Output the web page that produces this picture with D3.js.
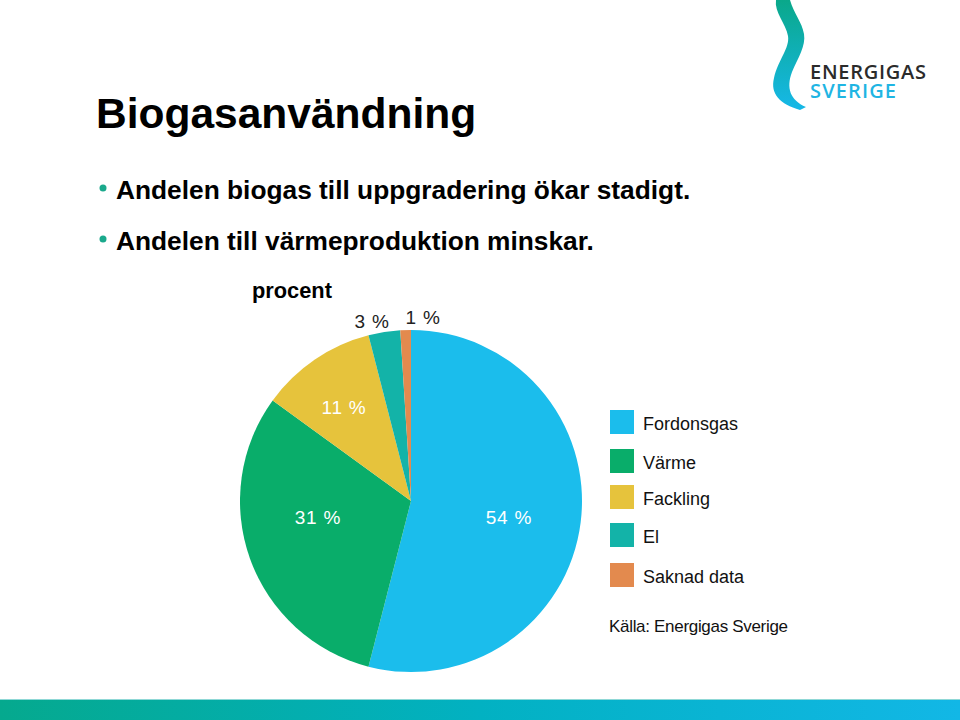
<!DOCTYPE html>
<html><head><meta charset="utf-8">
<script src="https://cdn.jsdelivr.net/npm/d3@7"></script>
<style>body{margin:0;background:#fff}svg{display:block}</style>
</head><body>
<svg id="c" width="960" height="720"></svg>
<script>
const categories = ["Fordonsgas", "Värme", "Fackling", "El", "Saknad data"];
const values = [54, 31, 11, 3, 1];
const valueLabels = ["54 %", "31 %", "11 %", "3 %", "1 %"];
const colors = ["#1bbdec", "#09ad6a", "#e6c33c", "#13b3a8", "#e38a4e"];
const title = "Biogasanvändning";
const bullets = ["Andelen biogas till uppgradering ökar stadigt.", "Andelen till värmeproduktion minskar."];

const svg = d3.select("#c");
const defs = svg.append("defs");
const g1 = defs.append("linearGradient").attr("id","bar").attr("x1","0").attr("x2","1");
g1.append("stop").attr("offset","0").attr("stop-color","#05a98e");
g1.append("stop").attr("offset","0.5").attr("stop-color","#02b1c2");
g1.append("stop").attr("offset","1").attr("stop-color","#12b7e6");
const g2 = defs.append("linearGradient").attr("id","rib").attr("x1","0").attr("y1","0").attr("x2","0").attr("y2","1");
g2.append("stop").attr("offset","0").attr("stop-color","#0aa88a");
g2.append("stop").attr("offset","1").attr("stop-color","#16b8e8");

// bottom bar
svg.append("rect").attr("x",0).attr("y",700).attr("width",960).attr("height",20).attr("fill","url(#bar)");
svg.append("rect").attr("x",0).attr("y",699).attr("width",960).attr("height",1).attr("fill","#8fd8d6");

// logo ribbon
svg.append("path")
  .attr("d","M776,0 L790,0 C794,14 802,22 804,34 C806,46 798,58 792,72 C786,88 790,100 806,107 L800,110 C780,104 770,94 774,78 C778,60 790,48 788,36 C786,24 774,12 776,0 Z")
  .attr("fill","url(#rib)");
svg.append("text").attr("x",810).attr("y",79).attr("font-family","'Open Sans', Arial, sans-serif")
  .attr("font-size",20).attr("font-weight",600).attr("fill","#2b2b2b").attr("textLength",116).text("ENERGIGAS");
svg.append("text").attr("x",810).attr("y",98).attr("font-family","'Open Sans', Arial, sans-serif")
  .attr("font-size",20).attr("font-weight",600).attr("fill","#1fb5e3").attr("textLength",86).text("SVERIGE");

// title & bullets
svg.append("text").attr("x",96).attr("y",128).attr("font-family","'Liberation Sans', Arial, sans-serif")
  .attr("font-size",42.5).attr("font-weight","bold").attr("fill","#000").text(title);
bullets.forEach((b,i)=>{
  const y = 199 + i*51;
  svg.append("circle").attr("cx",103).attr("cy",y-11).attr("r",3.5).attr("fill","#1aa98c");
  svg.append("text").attr("x",116).attr("y",y).attr("font-family","'Liberation Sans', Arial, sans-serif")
    .attr("font-size",26.3).attr("font-weight","bold").attr("fill","#000").text(b);
});

svg.append("text").attr("x",252).attr("y",298).attr("font-family","'Liberation Sans', Arial, sans-serif")
  .attr("font-size",21.8).attr("font-weight","bold").attr("fill","#000").text("procent");

// pie
const cx = 411, cy = 501, r = 171;
const pie = d3.pie().sort(null).value(d=>d)(values);
const arc = d3.arc().innerRadius(0).outerRadius(r);
const pg = svg.append("g").attr("transform",`translate(${cx},${cy})`);
pg.selectAll("path").data(pie).join("path").attr("d",arc).attr("fill",(d,i)=>colors[i]);

const labelPos = [[98,23],[-93,23],[-67,-87],[-39,-173],[12,-177]];
const labelCol = ["#fff","#fff","#fff","#222","#222"];
pie.forEach((d,i)=>{
  pg.append("text").attr("x",labelPos[i][0]).attr("y",labelPos[i][1])
    .attr("text-anchor","middle").attr("font-family","'Liberation Sans', Arial, sans-serif")
    .attr("font-size",19).attr("letter-spacing",0.8).attr("fill",labelCol[i]).text(valueLabels[i]);
});

// legend
const legY = [410, 449, 485, 523, 563];
categories.forEach((c,i)=>{
  svg.append("rect").attr("x",610).attr("y",legY[i]).attr("width",24).attr("height",24).attr("fill",colors[i]);
  svg.append("text").attr("x",643).attr("y",legY[i]+20).attr("font-family","'Liberation Sans', Arial, sans-serif")
    .attr("font-size",18).attr("fill","#111").text(c);
});
svg.append("text").attr("x",609).attr("y",632).attr("font-family","'Liberation Sans', Arial, sans-serif")
  .attr("font-size",17).attr("fill","#111").attr("textLength",179).text("Källa: Energigas Sverige");
</script>
</body></html>
